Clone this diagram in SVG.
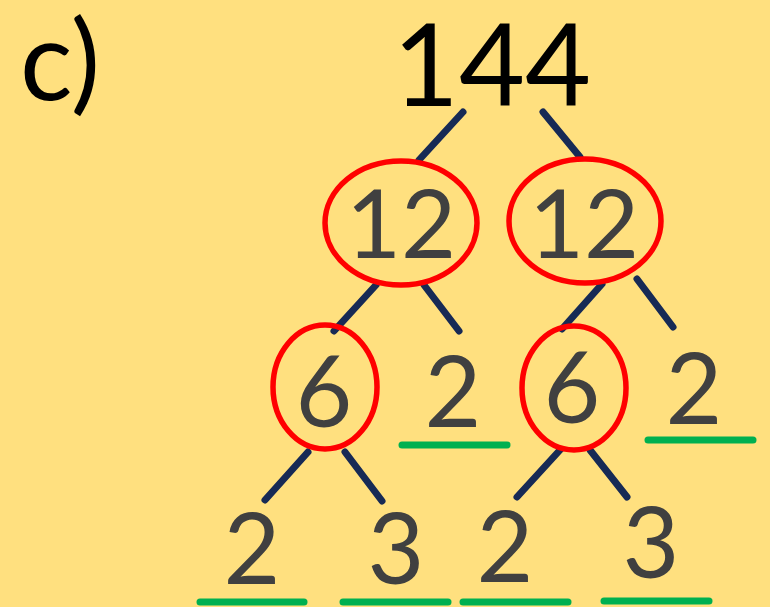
<svg xmlns="http://www.w3.org/2000/svg" width="770" height="607" viewBox="0 0 770 607">
<style>
.n{font-family:Lato,"Open Sans",sans-serif;fill:#404040;text-anchor:middle}
.e{fill:none;stroke:#ff0000;stroke-width:5.5}
.c line{stroke:#172a55;stroke-width:7;stroke-linecap:round}
.u line{stroke:#00b050;stroke-width:7;stroke-linecap:round}
</style>
<rect width="770" height="607" fill="#ffe07f"/>
<text id="label" x="20" y="100" style="font-family:Lato,'Open Sans',sans-serif;font-size:110px;fill:#000">c)</text>
<g class="c" id="connectors">
<line x1="463" y1="112" x2="419" y2="160"/>
<line x1="543" y1="112" x2="580" y2="157"/>
<line x1="376" y1="285" x2="334" y2="331"/>
<line x1="424" y1="285" x2="459" y2="331"/>
<line x1="602" y1="284" x2="562" y2="329"/>
<line x1="637" y1="279" x2="673" y2="327"/>
<line x1="308" y1="452" x2="265" y2="500"/>
<line x1="345" y1="452" x2="382" y2="501"/>
<line x1="560" y1="450" x2="517" y2="497"/>
<line x1="590" y1="450" x2="627" y2="497"/>
</g>
<g id="n144"><text class="n" x="492" y="106" style="font-size:114px;fill:#000">144</text></g>
<g id="n12a"><ellipse class="e" cx="401" cy="223" rx="76" ry="62"/><text class="n" x="401" y="258" style="font-size:95px">12</text></g>
<g id="n12b"><ellipse class="e" cx="585" cy="221" rx="76" ry="62"/><text class="n" x="584" y="258" style="font-size:95px">12</text></g>
<g id="n6a"><ellipse class="e" cx="325" cy="387" rx="52" ry="62"/><text class="n" x="324" y="427" style="font-size:98px">6</text></g>
<g id="n2a"><text class="n" x="453" y="427" style="font-size:98px">2</text></g>
<g id="n6b"><ellipse class="e" cx="574" cy="388" rx="52" ry="62"/><text class="n" x="572" y="423" style="font-size:98px">6</text></g>
<g id="n2b"><text class="n" x="694" y="424" style="font-size:98px">2</text></g>
<g id="n2c"><text class="n" x="252" y="584" style="font-size:98px">2</text></g>
<g id="n3a"><text class="n" x="396" y="584" style="font-size:98px">3</text></g>
<g id="n2d"><text class="n" x="505" y="582" style="font-size:98px">2</text></g>
<g id="n3b"><text class="n" x="651" y="578" style="font-size:98px">3</text></g>
<g class="u" id="underlines">
<line x1="402" y1="445" x2="507" y2="445"/>
<line x1="648" y1="440" x2="753" y2="440"/>
<line x1="200" y1="602" x2="304" y2="602"/>
<line x1="343" y1="602" x2="448" y2="602"/>
<line x1="463" y1="602" x2="568" y2="602"/>
<line x1="604" y1="601" x2="709" y2="601"/>
</g>
</svg>
